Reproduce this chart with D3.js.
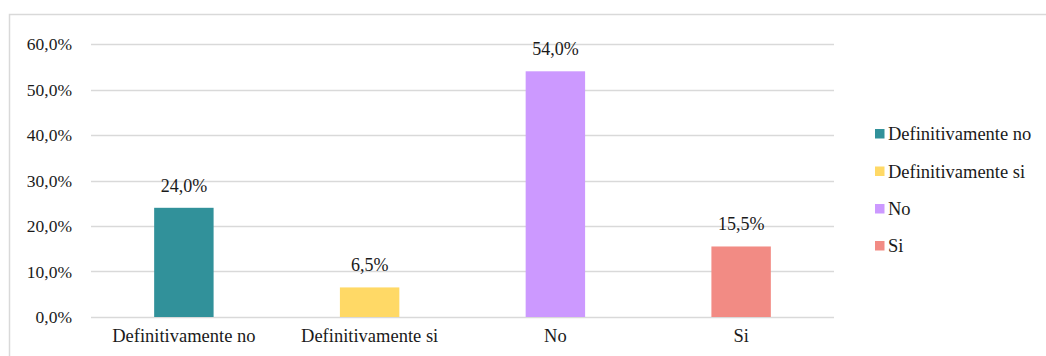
<!DOCTYPE html>
<html>
<head>
<meta charset="utf-8">
<script src="https://cdn.jsdelivr.net/npm/d3@7"></script>
<style>
  html, body { margin: 0; padding: 0; background: #fff; }
  svg { display: block; }
  text { font-family: "Liberation Serif", "Times New Roman", serif; fill: #1a1a1a; }
</style>
</head>
<body>
<svg id="chart" width="1046" height="356"></svg>
<script>
// Survey responses (share of respondents)
const categories = ["Definitivamente no", "Definitivamente si", "No", "Si"];
const values = [0.24, 0.065, 0.54, 0.155];
const colors = ["#31919a", "#ffd966", "#cc99ff", "#f28b84"];
const yTicks = [0, 0.1, 0.2, 0.3, 0.4, 0.5, 0.6];

const svg = d3.select("#chart");
const FS_TICK = 17.5, FS_VALUE = 18, FS_CAT = 18.5;

// outer frame (runs past the right and bottom edges)
svg.append("rect")
  .attr("x", 9.5).attr("y", 14.5)
  .attr("width", 1100).attr("height", 400)
  .attr("fill", "#fff").attr("stroke", "#d9d9d9").attr("stroke-width", 1.5);

const plot = { left: 91, right: 834, top: 44, bottom: 317 };

const x = d3.scaleBand()
  .domain(categories)
  .range([plot.left, plot.right])
  .paddingInner(0.68)
  .paddingOuter(0.34);

const y = d3.scaleLinear()
  .domain([0, 0.6])
  .range([plot.bottom, plot.top]);

const fmt = v => d3.format(".1f")(v * 100).replace(".", ",") + "%";

// horizontal gridlines
svg.append("g")
  .selectAll("line")
  .data(yTicks)
  .join("line")
  .attr("x1", plot.left).attr("x2", plot.right)
  .attr("y1", d => Math.round(y(d)) + 0.5)
  .attr("y2", d => Math.round(y(d)) + 0.5)
  .attr("stroke", "#d9d9d9").attr("stroke-width", 1.3);

// y axis labels
const yAxis = d3.axisLeft(y).tickValues(yTicks).tickFormat(fmt).tickSize(0).tickPadding(19);
const yg = svg.append("g").attr("transform", `translate(${plot.left},0)`).call(yAxis);
yg.select(".domain").remove();
yg.selectAll("text").attr("font-size", FS_TICK).attr("font-family", "Liberation Serif").attr("fill", "#1a1a1a");

// bars
svg.append("g")
  .selectAll("rect")
  .data(values)
  .join("rect")
  .attr("x", (d, i) => x(categories[i]))
  .attr("width", x.bandwidth())
  .attr("y", d => y(d))
  .attr("height", d => y(0) - y(d))
  .attr("fill", (d, i) => colors[i]);

// value labels
svg.append("g")
  .selectAll("text")
  .data(values)
  .join("text")
  .attr("x", (d, i) => x(categories[i]) + x.bandwidth() / 2)
  .attr("y", d => y(d) - 16)
  .attr("text-anchor", "middle")
  .attr("font-size", FS_VALUE)
  .text(d => fmt(d));

// x axis category labels
const xAxis = d3.axisBottom(x).tickSize(0).tickPadding(12);
const xg = svg.append("g").attr("transform", `translate(0,${plot.bottom})`).call(xAxis);
xg.select(".domain").remove();
xg.selectAll("text").attr("font-size", FS_CAT).attr("font-family", "Liberation Serif").attr("fill", "#1a1a1a");

// legend
const legend = svg.append("g").attr("transform", "translate(875,0)");
const legendY = [134, 171.5, 209, 246];
const items = legend.selectAll("g")
  .data(categories)
  .join("g")
  .attr("transform", (d, i) => `translate(0,${legendY[i]})`);
items.append("rect")
  .attr("x", 0).attr("y", -5).attr("width", 9.5).attr("height", 9.5)
  .attr("fill", (d, i) => colors[i]);
items.append("text")
  .attr("x", 13).attr("y", 6)
  .attr("font-size", FS_CAT)
  .text(d => d);
</script>
</body>
</html>
